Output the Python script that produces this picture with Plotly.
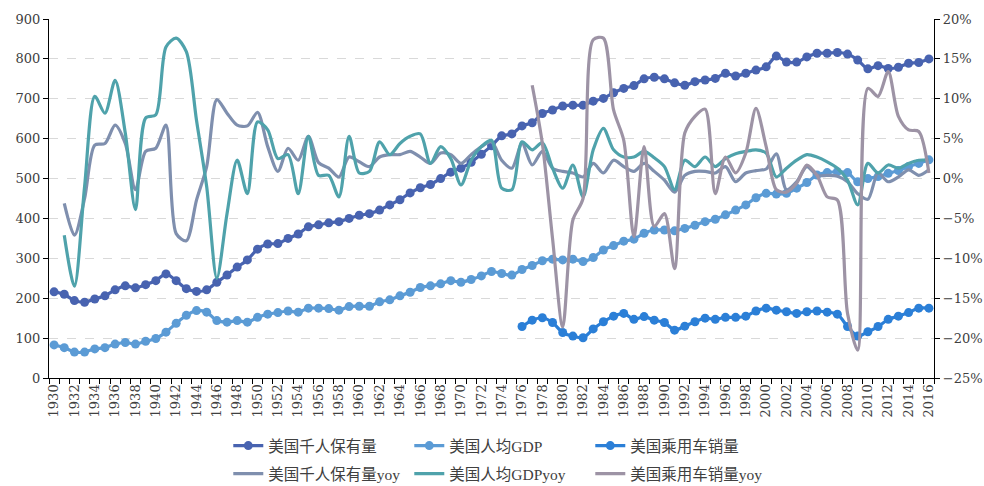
import plotly.graph_objects as go

# Years on the category axis
years = list(range(1930, 2017))
label_years = list(range(1930, 2017, 2))

# 美国千人保有量 (1930-2016)
ownership = [216, 210, 194, 190, 198, 206, 221, 231, 226, 234,
             244, 261, 244, 224, 217, 221, 240, 258, 278, 296,
             323, 336, 337, 350, 361, 379, 384, 389, 392, 400,
             408, 412, 421, 434, 447, 464, 477, 485, 500, 516,
             526, 541, 561, 582, 607, 612, 632, 640, 663, 672,
             682, 684, 684, 694, 701, 715, 726, 733, 750, 754,
             750, 740, 734, 743, 747, 751, 764, 757, 764, 772,
             780, 807, 792, 792, 805, 814, 814, 816, 812, 797,
             775, 783, 776, 779, 789, 791, 800]

# 美国人均GDP (1930-2016)
gdp = [83, 76, 65, 65, 73, 76, 85, 89, 85, 92,
       99, 115, 137, 157, 169, 165, 144, 140, 144, 140,
       152, 160, 164, 168, 165, 175, 175, 174, 170, 179,
       180, 180, 191, 196, 206, 215, 227, 231, 236, 244,
       240, 247, 256, 267, 262, 258, 272, 282, 294, 298,
       296, 298, 292, 302, 321, 332, 343, 348, 363, 371,
       371, 369, 375, 383, 392, 398, 409, 421, 434, 452,
       463, 461, 463, 476, 490, 509, 515, 517, 515, 492,
       500, 505, 513, 520, 530, 538, 547]

# 美国乘用车销量 (1976-2016)
sales_years = list(range(1976, 2017))
sales = [129, 145, 151, 139, 114, 105, 101, 123, 141, 155,
         162, 147, 154, 145, 139, 120, 130, 141, 150, 147,
         152, 152, 155, 168, 175, 170, 166, 162, 166, 168,
         165, 160, 129, 105, 116, 129, 147, 155, 164, 175, 175]

# 美国千人保有量yoy, % (1931-2016)
yoy_years = list(range(1931, 2017))
ownership_yoy = [-3.1, -7.1, -2.5, 4.2, 4.4, 6.7, 4.4, -1.4, 3.4, 3.8,
                 6.7, -6.9, -7.8, -2.7, 1.5, 9.9, 8.2, 6.7, 6.6, 8.3,
                 4.0, 0.9, 3.8, 2.3, 5.3, 2.0, 1.3, 0.2, 2.7, 2.1,
                 1.5, 2.7, 3.0, 3.0, 3.4, 2.7, 1.9, 3.2, 3.0, 1.9,
                 3.0, 4.0, 4.6, 2.3, 1.3, 4.4, 1.7, 3.4, 1.3, 0.9,
                 0.7, 0.2, 1.9, 0.7, 2.3, 1.5, 0.9, 1.9, 0.9, -0.2,
                 -1.7, 0.4, 0.9, 0.9, 0.7, 1.5, -0.4, 0.7, 1.0, 1.2,
                 3.1, -1.4, -0.4, 1.5, 0.4, 0.4, 0.3, -0.4, -1.9, -2.6,
                 0.7, -0.4, 0.2, 1.1, 0.4, 1.1]

# 美国人均GDPyoy, % (1931-2016)
gdp_yoy = [-7.1, -13.5, -1.0, 10.3, 8.2, 12.3, 5.7, -3.9, 7.6, 8.0,
           16.5, 17.6, 15.9, 7.3, -1.0, -12.5, -4.4, 2.3, -1.9, 7.1,
           6.1, 2.5, 3.0, -1.9, 5.3, 0.4, 0.4, -2.3, 5.3, 0.7,
           0.9, 4.6, 3.0, 4.4, 5.3, 5.6, 1.9, 4.0, 2.5, -0.8,
           2.3, 4.0, 4.8, -1.2, -1.4, 4.6, 3.6, 4.5, 1.3, -1.2,
           1.7, -2.3, 3.6, 6.3, 3.6, 2.7, 2.7, 3.4, 2.6, 1.5,
           -1.4, 2.3, 1.5, 2.7, 1.5, 2.5, 3.1, 3.4, 3.6, 3.2,
           0.2, 1.3, 2.3, 3.0, 2.7, 2.1, 1.3, -0.2, -3.3, 1.9,
           0.7, 1.7, 1.3, 1.9, 2.3, 2.3]

# 美国乘用车销量yoy, % (1977-2016)
sales_yoy_years = list(range(1977, 2017))
sales_yoy = [11.7, 4.4, -7.5, -18.6, -5.2, -2.5, 17.4, 17.6, 8.6, 4.8,
             -7.3, 4.0, -6.0, -4.4, -11.3, 5.7, 7.8, 8.7, -1.9, 2.7,
             0.7, 3.2, 8.8, 4.0, -1.4, -1.7, -0.6, 1.7, 0.4, -2.3,
             -2.7, -16.9, -21.5, 11.3, 10.3, 13.4, 7.8, 6.1, 5.9, 0.7]

C_OWN = "#4863B0"
C_GDP = "#5B9BD5"
C_SALES = "#2B7FD7"
C_OWN_YOY = "#7F8FAE"
C_GDP_YOY = "#4FA2AB"
C_SALES_YOY = "#9D93A5"

TICK_FONT = dict(family="DejaVu Serif, Noto Sans CJK SC, serif", size=13, color="#404040")
LEGEND_FONT = dict(family="Liberation Serif, Noto Sans CJK SC, serif", size=15.5, color="#404040")

fig = go.Figure()


def marker_series(x, y, name, color):
    return go.Scatter(
        x=x, y=y, name=name, mode="lines+markers",
        line=dict(color=color, width=3.2, shape="spline", smoothing=0.8),
        marker=dict(color=color, size=9),
        legend="legend", yaxis="y",
    )


def yoy_series(x, y, name, color):
    return go.Scatter(
        x=x, y=y, name=name, mode="lines",
        line=dict(color=color, width=3.2, shape="spline", smoothing=0.8),
        legend="legend2", yaxis="y2",
    )


fig.add_trace(marker_series(years, ownership, "美国千人保有量", C_OWN))
fig.add_trace(marker_series(years, gdp, "美国人均GDP", C_GDP))
fig.add_trace(marker_series(sales_years, sales, "美国乘用车销量", C_SALES))
fig.add_trace(yoy_series(yoy_years, ownership_yoy, "美国千人保有量yoy", C_OWN_YOY))
fig.add_trace(yoy_series(yoy_years, gdp_yoy, "美国人均GDPyoy", C_GDP_YOY))
fig.add_trace(yoy_series(sales_yoy_years, sales_yoy, "美国乘用车销量yoy", C_SALES_YOY))

legend_common = dict(
    orientation="h", xanchor="left", yanchor="middle",
    xref="container", yref="container",
    x=0.232, font=LEGEND_FONT, entrywidth=136, entrywidthmode="pixels",
    bgcolor="rgba(0,0,0,0)", itemwidth=30, traceorder="normal",
)

fig.update_layout(
    width=984, height=486,
    margin=dict(l=49, r=50, t=19, b=108, autoexpand=False),
    paper_bgcolor="white", plot_bgcolor="white",
    showlegend=True,
    legend=dict(y=1 - 446 / 486, **legend_common),
    legend2=dict(y=1 - 474 / 486, **legend_common),
    xaxis=dict(
        range=[1929.5, 2016.5], automargin=False,
        tickmode="array", tickvals=label_years,
        ticktext=[str(v) for v in label_years],
        tickangle=-90, tickfont=TICK_FONT,
        ticks="", showgrid=False, zeroline=False,
        showline=True, linecolor="#000000", linewidth=1.3,
        minor=dict(tick0=1929.5, dtick=1, ticks="outside", ticklen=5,
                   tickcolor="#000000", showgrid=False),
    ),
    yaxis=dict(
        range=[0, 900], dtick=100, tickfont=TICK_FONT, automargin=False,
        showgrid=True, gridcolor="#D9D9D9", griddash="dash", gridwidth=1,
        zeroline=False, showline=True, linecolor="#000000", linewidth=1.3,
        ticks="outside", ticklen=5, tickcolor="#000000",
    ),
    yaxis2=dict(
        range=[-25, 20], dtick=5, ticksuffix="%", tickfont=TICK_FONT,
        automargin=False,
        overlaying="y", side="right", showgrid=False, zeroline=False,
        showline=True, linecolor="#000000", linewidth=1.3,
        ticks="outside", ticklen=5, tickcolor="#000000",
    ),
)

fig.write_html("out.html")
